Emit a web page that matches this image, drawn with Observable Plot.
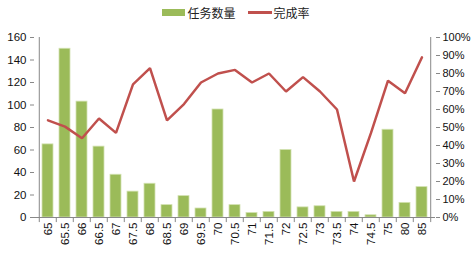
<!DOCTYPE html>
<html><head><meta charset="utf-8">
<script src="https://cdn.jsdelivr.net/npm/d3@7"></script>
<script src="https://cdn.jsdelivr.net/npm/@observablehq/plot@0.6"></script>
<style>
body{margin:0;background:#fff;font-family:"Liberation Sans",Arial,sans-serif;}
#legend{height:25px;display:flex;justify-content:center;align-items:center;font-family:"Noto Sans CJK SC",sans-serif;font-size:12px;color:#222;}
.sw{display:inline-block;width:23px;height:7px;background:#9BBB59;margin-right:2px;}
.ln{display:inline-block;width:24px;height:2.5px;background:#C0504D;margin-right:2px;margin-left:12px;}
</style></head>
<body>
<div id="legend"><span class="sw"></span><span>任务数量</span><span class="ln"></span><span>完成率</span></div>
<div id="chart"></div>
<script>
const categories = ["65","65.5","66","66.5","67","67.5","68","68.5","69","69.5","70","70.5","71","71.5","72","72.5","73","73.5","74","74.5","75","80","85"];
const taskCounts = [65,150,103,63,38,23,30,11,19,8,96,11,4,5,60,9,10,5,5,2,78,13,27];
const completionRate = [54,50.5,44,55,47,74,83,54,63,75,80,82,75,80,70,78,70,60,20,47,76,69,89];
const leftTicks = [0,20,40,60,80,100,120,140,160];
const rightTicks = [0,10,20,30,40,50,60,70,80,90,100];

const data = categories.map((c,i)=>({cat:c, n:taskCounts[i], r:completionRate[i]}));
const W = 472, mL = 34, mR = 37;
const bw = (W - mL - mR) / categories.length;
const axisColor = "#888";
const last = categories[categories.length-1];

const chart = Plot.plot({
  width: W, height: 231,
  marginTop: 12, marginBottom: 39, marginLeft: mL, marginRight: mR,
  style: {fontFamily: "'Liberation Sans', Arial, sans-serif", fontSize: "11.5px", color: "#111", background: "#fff", overflow: "visible"},
  x: {type: "band", domain: categories, padding: 0},
  y: {domain: [0,160]},
  marks: [
    Plot.barY(data, {x: "cat", y: "n", fill: "#9BBB59", stroke: "#d3e2b1", strokeWidth: 0.8, insetLeft: 3, insetRight: 3}),
    Plot.lineY(data, {x: "cat", y: d => d.r * 1.6, stroke: "#C0504D", strokeWidth: 2.5, strokeLinejoin: "miter"}),
    Plot.ruleY([0], {stroke: axisColor}),
    Plot.ruleX([categories[0]], {y1: 0, y2: 160, dx: -bw/2, stroke: axisColor}),
    Plot.ruleX([last], {y1: 0, y2: 160, dx: bw/2, stroke: axisColor}),
    Plot.ruleX(categories, {y1: 0, y2: -4.5, dx: -bw/2, stroke: axisColor}),
    Plot.ruleX([last], {y1: 0, y2: -4.5, dx: bw/2, stroke: axisColor}),
    Plot.axisY({anchor: "left", ticks: leftTicks, tickSize: 4, tickPadding: 4, stroke: axisColor, label: null}),
    Plot.axisY({anchor: "right", ticks: rightTicks.map(v => v*1.6), tickFormat: d => Math.round(d/1.6) + "%", tickSize: 4, tickPadding: 3, fontSize: 11, stroke: axisColor, label: null}),
    Plot.axisX({tickSize: 0, tickRotate: -90, tickPadding: 5, label: null})
  ]
});
document.getElementById("chart").appendChild(chart);
</script>
</body></html>
